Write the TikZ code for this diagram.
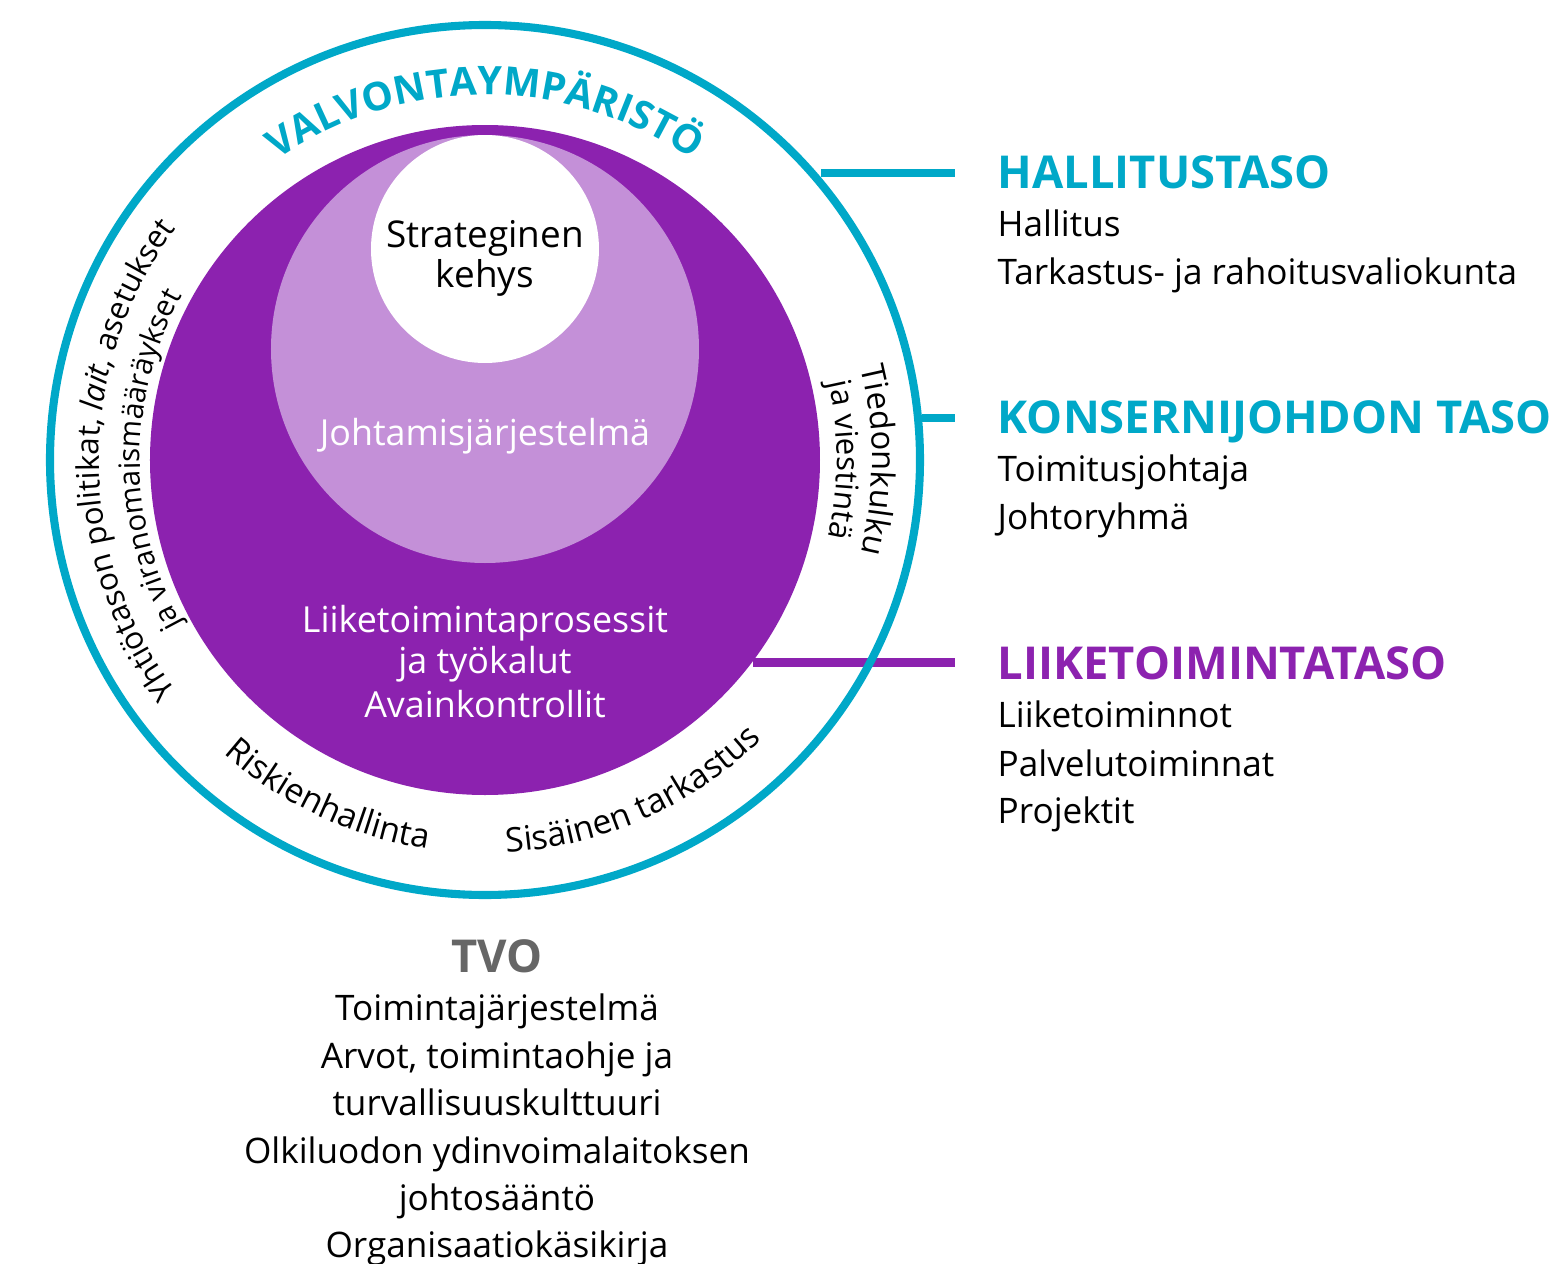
\documentclass[tikz,border=0pt]{standalone}
\usepackage{fontspec}
\setmainfont{Open Sans}
\usetikzlibrary{decorations.text}

\definecolor{tvoteal}{HTML}{00A8C8}
\definecolor{tvopurple}{HTML}{8C22AF}
\definecolor{tvolilac}{HTML}{C490D8}
\definecolor{tvogray}{HTML}{666666}

\newcommand{\bodyfont}{\fontsize{10pt}{12pt}\selectfont}
\newcommand{\innerfont}{\fontsize{10.2pt}{12pt}\selectfont}
\newcommand{\stratfont}{\fontsize{10.5pt}{12pt}\selectfont}
\newcommand{\headfont}{\fontsize{12.9pt}{14pt}\selectfont\bfseries}
\newcommand{\ringfont}{\fontsize{8.9pt}{11pt}\selectfont}
\newcommand{\ringinfont}{\fontsize{8.4pt}{11pt}\selectfont}
\newcommand{\sidefont}{\fontsize{9.3pt}{11pt}\selectfont}
\newcommand{\sideinfont}{\fontsize{8.9pt}{11pt}\selectfont}
\newcommand{\lowfont}{\fontsize{9.6pt}{11pt}\selectfont}
\newcommand{\valfont}{\fontsize{11.2pt}{13pt}\selectfont\bfseries\color{tvoteal}}

\begin{document}
\begin{tikzpicture}[disc/.style={circle, inner sep=0pt, draw=none},
    txt/.style={inner sep=0pt, anchor=base, font=\bodyfont},
    lvlhead/.style={inner sep=0pt, anchor=base west, font=\headfont},
    lvlitem/.style={inner sep=0pt, anchor=base west, font=\bodyfont},
    lvlline/.style={line width=2.3pt},
    ringtext/.style={decorate, decoration={text along path, text align=center, text={#1}}}]
			\useasboundingbox (-4.85,-8.04) rectangle (10.79,4.60);
			
			\node[disc, fill=tvopurple, minimum size=6.70cm] (core) at (0,0){};
			\node[disc, fill=tvolilac, minimum size=4.28cm] (mgmt) at (0,1.11){};
			\node[disc, fill=white, minimum size=2.28cm] (strat) at (0,2.11){};
			
			\node[txt, font=\stratfont] (strat1) at (0,2.13){Strateginen};
			\node[txt, font=\stratfont] (strat2) at (0,1.72){kehys};
			\node[txt, font=\innerfont, text=white] (mgmt1) at (0,0.15){Johtamisjärjestelmä};
			\node[txt, font=\innerfont, text=white] (core1) at (0,-1.72){Liiketoimintaprosessit};
			\node[txt, font=\innerfont, text=white] (core2) at (0,-2.13){ja työkalut};
			\node[txt, font=\innerfont, text=white] (core3) at (0,-2.57){Avainkontrollit};
			
			\node[lvlhead, text=tvoteal] (hall) at (5.12,2.72){HALLITUSTASO};
			\node[lvlitem] (hall1) at (5.12,2.24){Hallitus};
			\node[lvlitem] (hall2) at (5.12,1.76){Tarkastus- ja rahoitusvaliokunta};
			\node[lvlhead, text=tvoteal] (kons) at (5.12,0.27){KONSERNIJOHDON TASO};
			\node[lvlitem] (kons1) at (5.12,-0.21){Toimitusjohtaja};
			\node[lvlitem] (kons2) at (5.12,-0.69){Johtoryhmä};
			\node[lvlhead, text=tvopurple] (liike) at (5.12,-2.19){LIIKETOIMINTATASO};
			\node[lvlitem] (liike1) at (5.12,-2.67){Liiketoiminnot};
			\node[lvlitem] (liike2) at (5.12,-3.16){Palvelutoiminnat};
			\node[lvlitem] (liike3) at (5.12,-3.63){Projektit};
			
			\node[txt, font=\headfont, text=tvogray] (tvo) at (0.12,-5.12){TVO};
			\node[txt] (tvo1) at (0.12,-5.60){Toimintajärjestelmä};
			\node[txt] (tvo2) at (0.12,-6.08){Arvot, toimintaohje ja};
			\node[txt] (tvo3) at (0.12,-6.55){turvallisuuskulttuuri};
			\node[txt] (tvo4) at (0.12,-7.03){Olkiluodon ydinvoimalaitoksen};
			\node[txt] (tvo5) at (0.12,-7.50){johtosääntö};
			\node[txt] (tvo6) at (0.12,-7.97){Organisaatiokäsikirja};
			
			\coordinate (hallend) at (4.70,2.87);
			\coordinate (konsend) at (4.70,0.42);
			\coordinate (liikeend) at (4.70,-2.025);
			
			\draw[lvlline, tvopurple] (core.-37.1 |- liikeend) -- (liikeend);
			\node[disc, draw=tvoteal, line width=2.3pt, minimum size=8.70cm] (ring) at (0,0){};
			\draw[lvlline, tvoteal] (ring.40.5 |- hallend) -- (hallend);
			\draw[lvlline, tvoteal] (ring.5.5 |- konsend) -- (konsend);
			
			\path[ringtext={|\valfont|VALVONTAYMPÄRISTÖ}] (140:3.65) arc[start angle=140, end angle=40, radius=3.65];
			\path[ringtext={|\ringfont|Yhtiötason politikat, |\ringfont\itshape|lait|\ringfont\upshape|, asetukset}] (235:3.86) arc[start angle=235, end angle=125, radius=3.86];
			\path[ringtext={|\ringinfont|ja viranomaismääräykset}] (235:3.45) arc[start angle=235, end angle=125, radius=3.45];
			\path[ringtext={|\sidefont|Tiedonkulku}] (30:3.87) arc[start angle=30, end angle=-30, radius=3.87];
			\path[ringtext={|\sideinfont|ja viestintä}] (30:3.52) arc[start angle=30, end angle=-30, radius=3.52];
			\path[ringtext={|\lowfont|Riskienhallinta}] (215:3.93) arc[start angle=215, end angle=275, radius=3.93];
			\path[ringtext={|\lowfont|Sisäinen tarkastus}] (264:3.93) arc[start angle=264, end angle=324, radius=3.93];
\end{tikzpicture}
\end{document}
